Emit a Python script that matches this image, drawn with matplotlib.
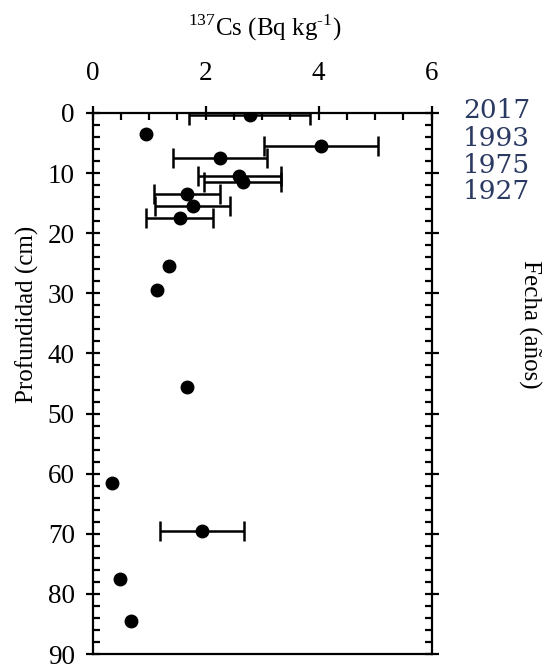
import numpy as np
import matplotlib
matplotlib.use("Agg")
import matplotlib.pyplot as plt
from matplotlib.ticker import MultipleLocator

# 137Cs activity vs depth
depth = [0.3, 3.5, 5.5, 7.5, 10.5, 11.5, 13.5, 15.5, 17.5, 25.5, 29.5, 45.5, 61.5, 69.5, 77.5, 84.5]
cs137 = [2.78, 0.94, 4.04, 2.26, 2.60, 2.66, 1.67, 1.77, 1.54, 1.36, 1.14, 1.68, 0.35, 1.94, 0.49, 0.69]
cs_err = [1.07, 0, 1.01, 0.83, 0.73, 0.68, 0.58, 0.66, 0.60, 0, 0, 0, 0, 0.75, 0, 0]

# dating marks on the right side
year_labels = ["2017", "1993", "1975", "1927"]
year_depth = [-0.4, 4.2, 8.7, 13.1]

plt.rcParams['font.family'] = ['Liberation Serif', 'DejaVu Serif']
plt.rcParams['mathtext.fontset'] = 'custom'
plt.rcParams['mathtext.rm'] = 'Liberation Serif'

fig = plt.figure(figsize=(5.46, 6.65), dpi=100)
ax = fig.add_axes([92.5 / 546, 1 - 654 / 665, 339 / 546, 541 / 665])

err = np.array(cs_err, dtype=float)
has_err = err > 0
x = np.array(cs137)
y = np.array(depth)
ax.errorbar(x[has_err], y[has_err], xerr=err[has_err], fmt='o', color='black',
            markersize=9, elinewidth=1.8, capsize=7, capthick=1.8)
ax.plot(x[~has_err], y[~has_err], 'o', color='black', markersize=9)

ax.set_xlim(0, 6)
ax.set_ylim(90, 0)
ax.xaxis.set_major_locator(MultipleLocator(2))
ax.xaxis.set_minor_locator(MultipleLocator(0.5))
ax.yaxis.set_major_locator(MultipleLocator(10))
ax.yaxis.set_minor_locator(MultipleLocator(2))

for s in ax.spines.values():
    s.set_linewidth(1.6)

ax.tick_params(which='major', direction='inout', length=9.5, width=1.6, labelsize=19.5,
               top=True, bottom=False, labeltop=True, labelbottom=False,
               left=True, right=True)
ax.tick_params(which='minor', direction='in', length=5, width=1.6,
               top=True, bottom=False, left=True, right=True)
ax.tick_params(axis='x', which='major', pad=15)
ax.tick_params(axis='y', which='major', pad=8)

for lab, d in zip(year_labels, year_depth):
    ax.text(1.092, d, lab, transform=ax.get_yaxis_transform(), va='center', ha='left',
            fontsize=19, color='#2b3a62', family='DejaVu Serif')

fig.text(265 / 546, 1 - 28 / 665, r'$^{137}$Cs (Bq kg$^{\text{-}1}$)', ha='center', va='center', fontsize=18)
fig.text(27 / 546, 1 - 314 / 665, 'Profundidad (cm)', rotation=90, ha='center', va='center', fontsize=18)
fig.text(530 / 546, 1 - 324 / 665, 'Fecha (años)', rotation=-90, ha='center', va='center', fontsize=18)

fig.savefig('out.png', dpi=100)
